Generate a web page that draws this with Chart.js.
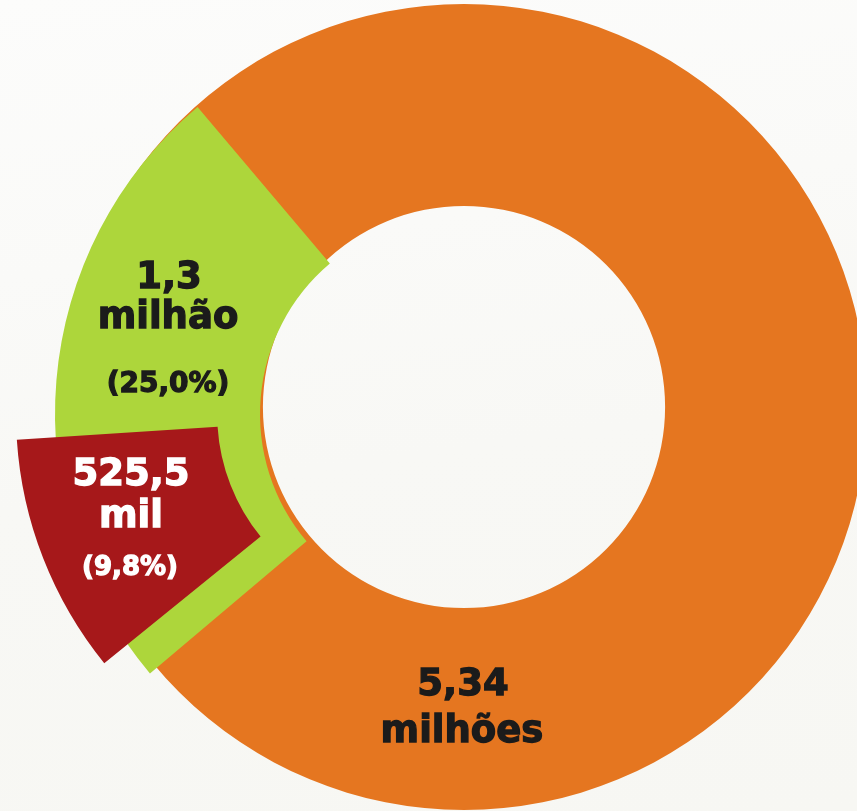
<!DOCTYPE html>
<html>
<head>
<meta charset="utf-8">
<script src="https://cdn.jsdelivr.net/npm/chart.js@4.4.0/dist/chart.umd.min.js"></script>
<style>
  html, body { margin: 0; padding: 0; }
  body {
    width: 857px; height: 811px; overflow: hidden; position: relative;
    background: linear-gradient(172deg, #fcfcfb 0%, #fafaf8 30%, #f8f8f5 55%, #f7f7f3 100%);
    font-family: "DejaVu Sans", sans-serif;
  }
  canvas { position: absolute; }
  .lbl {
    position: absolute; width: 300px; text-align: center; font-weight: bold;
    line-height: 1; white-space: nowrap; color: #1b1b1b;
    -webkit-text-stroke: 1.3px #1b1b1b;
  }
  .white { color: #ffffff; -webkit-text-stroke: 1.3px #ffffff; }
</style>
</head>
<body>
<canvas id="cTotal" width="900" height="900"></canvas>
<canvas id="cGroup" width="900" height="900"></canvas>
<canvas id="cSub" width="900" height="900"></canvas>
<div id="labels"></div>
<script>
// ---- data ----
const categories = ['Total', 'Grupo', 'Subgrupo'];
const valueTexts = ['5,34 milhões', '1,3 milhão', '525,5 mil'];
const shareTexts = ['', '(25,0%)', '(9,8%)'];
const sharePercent = [100, 25.0, 9.8];   // share of the total, in %
const colors = ['#E57620', '#ADD63B', '#A6181A'];

// ---- layout (positions only) ----
const HALF = 450;
function place(id, cx, cy) {
  const c = document.getElementById(id);
  c.style.left = (cx - HALF) + 'px';
  c.style.top = (cy - HALF) + 'px';
  return c;
}
const common = (radius, cutout, rotation) => ({
  responsive: false,
  animation: false,
  radius: radius,
  cutout: cutout,
  rotation: rotation,
  layout: { padding: 0 },
  plugins: { legend: { display: false }, tooltip: { enabled: false } },
  events: []
});

// Total ring (orange, full circle)
new Chart(place('cTotal', 464, 407), {
  type: 'doughnut',
  data: {
    labels: [categories[0]],
    datasets: [{ data: [sharePercent[0]], backgroundColor: [colors[0]], borderWidth: 0 }]
  },
  options: common(403, '49.9%', 0)
});

// Group slice (green, 25 %), slightly pulled out
new Chart(place('cGroup', 457, 414), {
  type: 'doughnut',
  data: {
    labels: [categories[1], 'resto'],
    datasets: [{
      data: [sharePercent[1], sharePercent[0] - sharePercent[1]],
      backgroundColor: [colors[1], 'rgba(0,0,0,0)'], borderWidth: 0
    }]
  },
  options: common(402, '49%', 229.8)
});

// Sub-group slice (red, 9,8 %), exploded
new Chart(place('cSub', 412, 414), {
  type: 'doughnut',
  data: {
    labels: [categories[2], 'resto'],
    datasets: [{
      data: [sharePercent[2], sharePercent[0] - sharePercent[2]],
      backgroundColor: [colors[2], 'rgba(0,0,0,0)'], borderWidth: 0
    }]
  },
  options: common(396, '49.2%', 231)
});

// ---- labels as real text ----
function splitValue(t) {
  const i = t.indexOf(' ');
  return [t.slice(0, i), t.slice(i + 1)];
}
const labelSpecs = [
  // [text, fontSize, centerX, baselineY, white]
  [splitValue(valueTexts[1])[0], 37, 169, 288, false],
  [splitValue(valueTexts[1])[1], 37, 168, 328, false],
  [shareTexts[1], 28, 168, 393, false],
  [splitValue(valueTexts[2])[0], 37, 131, 485, true],
  [splitValue(valueTexts[2])[1], 37, 131, 527, true],
  [shareTexts[2], 26, 130, 575, true],
  [splitValue(valueTexts[0])[0], 37, 463, 695, false],
  [splitValue(valueTexts[0])[1], 37, 462, 742, false]
];
const host = document.getElementById('labels');
labelSpecs.forEach(([txt, size, cx, base, white]) => {
  const d = document.createElement('div');
  d.className = 'lbl' + (white ? ' white' : '');
  d.style.fontSize = size + 'px';
  // DejaVu Sans: ascent 0.928em, descent 0.236em; line-height 1
  const baselineFromTop = (size - 1.164 * size) / 2 + 0.928 * size;
  d.style.left = (cx - 150) + 'px';
  d.style.top = (base - baselineFromTop) + 'px';
  d.textContent = txt;
  host.appendChild(d);
});
</script>
</body>
</html>
